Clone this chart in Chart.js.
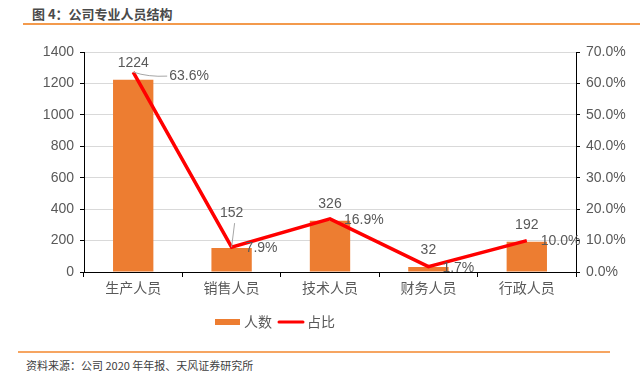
<!DOCTYPE html>
<html><head><meta charset="utf-8">
<script src="https://cdn.jsdelivr.net/npm/chart.js@4/dist/chart.umd.min.js"></script>
<style>
html,body{margin:0;padding:0;background:#fff;width:640px;height:379px;overflow:hidden;font-family:"Noto Sans CJK SC","Liberation Sans",sans-serif;}
#title{position:absolute;left:32px;top:4px;font-size:13px;font-weight:bold;color:#4a4a4a;}
#topline{position:absolute;left:23px;top:23px;width:617px;height:2px;background:#f39a4c;}
#botline{position:absolute;left:18px;top:351px;width:592px;height:2px;background:#f6a561;}
#source{position:absolute;left:26px;top:357px;font-size:11px;color:#404040;}
#wrap{position:absolute;left:0;top:0;width:640px;height:345px;}
</style></head>
<body>
<div id="title">图 4：公司专业人员结构</div>
<div id="topline"></div>
<div id="wrap"><canvas id="c"></canvas></div>
<div id="botline"></div>
<div id="source">资料来源：公司 2020 年年报、天风证券研究所</div>
<script>
const categories = ['生产人员','销售人员','技术人员','财务人员','行政人员'];
const headcount = [1224, 152, 326, 32, 192];
const share = [63.6, 7.9, 16.9, 1.7, 10.0];
const leftTicks = [0,200,400,600,800,1000,1200,1400];
const rightTicks = [0,10,20,30,40,50,60,70];

const gray = '#595959';

const labelPlugin = {
  id: 'labels',
  afterDatasetsDraw(chart) {
    const ctx = chart.ctx;
    const barMeta = chart.getDatasetMeta(0);
    const lineMeta = chart.getDatasetMeta(1);
    ctx.save();
    ctx.font = '14px "Liberation Sans", Arial, sans-serif';
    ctx.fillStyle = gray;
    ctx.textBaseline = 'middle';
    barMeta.data.forEach((el, i) => {
      let y = el.y - 17;
      if (i === 1) {
        y = el.y - 35;
        ctx.strokeStyle = '#a6a6a6'; ctx.lineWidth = 1;
        ctx.beginPath(); ctx.moveTo(el.x + 3, y + 10); ctx.lineTo(el.x, lineMeta.data[i].y); ctx.stroke();
      }
      ctx.textAlign = 'center';
      ctx.fillText(String(headcount[i]), el.x, y);
    });
    lineMeta.data.forEach((pt, i) => {
      let x = pt.x + 14, y = pt.y + 1;
      if (i === 0) {
        x = pt.x + 36; y = pt.y + 4;
        ctx.strokeStyle = '#a6a6a6'; ctx.lineWidth = 1;
        ctx.beginPath(); ctx.moveTo(pt.x, pt.y); ctx.quadraticCurveTo(pt.x + 15, pt.y + 5, x - 2, y); ctx.stroke();
      }
      ctx.textAlign = 'left';
      ctx.fillText(share[i].toFixed(1) + '%', x, y);
    });
    ctx.restore();
  }
};

const legendPlugin = {
  id: 'customLegend',
  afterDraw(chart) {
    const ctx = chart.ctx;
    const ds = chart.data.datasets;
    const y = chart.chartArea.bottom + 50;
    ctx.save();
    ctx.font = '14px "Noto Sans CJK SC", sans-serif';
    ctx.textBaseline = 'middle';
    ctx.textAlign = 'left';
    // bar entry
    ctx.fillStyle = ds[0].backgroundColor;
    ctx.fillRect(215, y - 3, 25, 6);
    ctx.fillStyle = gray;
    ctx.fillText(ds[0].label, 244, y);
    // line entry
    ctx.strokeStyle = ds[1].borderColor;
    ctx.lineWidth = 3;
    ctx.lineCap = 'round';
    ctx.beginPath(); ctx.moveTo(279, y); ctx.lineTo(303, y); ctx.stroke();
    ctx.fillText(ds[1].label, 307, y);
    ctx.restore();
  }
};

new Chart(document.getElementById('c'), {
  data: {
    labels: categories,
    datasets: [
      { type: 'bar', label: '人数', data: headcount, backgroundColor: '#ed7d31', yAxisID: 'y', order: 2,
        barPercentage: 0.41, categoryPercentage: 1 },
      { type: 'line', label: '占比', data: share, borderColor: '#ff0000', backgroundColor: '#ff0000', borderWidth: 3.5,
        pointRadius: 0, yAxisID: 'y1', order: 1, tension: 0 }
    ]
  },
  options: {
    responsive: true, maintainAspectRatio: false, animation: false,
    layout: { padding: { top: 52, bottom: 45, left: 0, right: 0 } },
    plugins: {
      tooltip: { enabled: false },
      legend: { display: false }
    },
    scales: {
      x: {
        grid: { display: true, drawOnChartArea: false, offset: true, tickLength: 5, tickColor: '#000' },
        border: { color: '#000', width: 1 },
        ticks: { color: gray, font: { size: 14, family: '"Noto Sans CJK SC", sans-serif' }, padding: 2 },
        afterFit(s) { s.height = 28; }
      },
      y: {
        position: 'left', min: 0, max: 1400,
        afterBuildTicks(s) { s.ticks = leftTicks.map(v => ({ value: v })); },
        grid: { color: '#d9d9d9', tickColor: '#000', tickLength: 4 },
        border: { color: '#000', width: 1 },
        ticks: { color: gray, font: { size: 14, family: '"Liberation Sans", Arial, sans-serif' }, padding: 6,
          callback: v => String(v) },
        afterFit(s) { s.width = 84; }
      },
      y1: {
        position: 'right', min: 0, max: 70,
        afterBuildTicks(s) { s.ticks = rightTicks.map(v => ({ value: v })); },
        grid: { drawOnChartArea: false, tickColor: '#000', tickLength: 4 },
        border: { color: '#000', width: 1 },
        ticks: { color: gray, font: { size: 14, family: '"Liberation Sans", Arial, sans-serif' }, padding: 6,
          callback: v => v.toFixed(1) + '%' },
        afterFit(s) { s.width = 64; }
      }
    }
  },
  plugins: [labelPlugin, legendPlugin]
});
</script>
</body></html>
